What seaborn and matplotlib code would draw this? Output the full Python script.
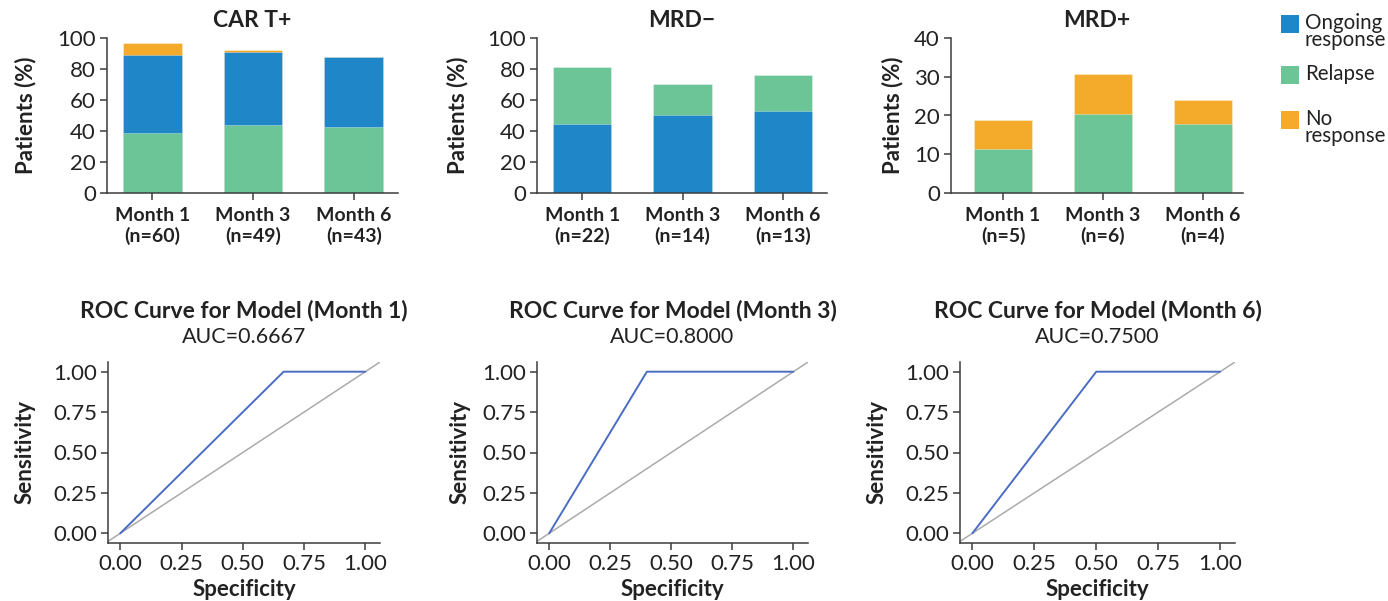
import matplotlib
matplotlib.use("Agg")
import matplotlib.pyplot as plt
import numpy as np
import seaborn as sns
from matplotlib.patches import Rectangle

# ---------------- data ----------------
months = ["Month 1", "Month 3", "Month 6"]

cart_n = [60, 49, 43]
cart_relapse = [38.5, 44.1, 42.8]
cart_ongoing = [50.5, 46.6, 44.9]
cart_noresp = [8.0, 1.8, 0.0]

mrdneg_n = [22, 14, 13]
mrdneg_ongoing = [44.5, 50.0, 52.7]
mrdneg_relapse = [36.8, 20.0, 23.6]

mrdpos_n = [5, 6, 4]
mrdpos_relapse = [11.3, 20.4, 17.9]
mrdpos_noresp = [7.6, 10.3, 6.2]

roc_months = ["Month 1", "Month 3", "Month 6"]
roc_auc = ["0.6667", "0.8000", "0.7500"]
roc_spec = [[0.0, 0.6667, 1.0], [0.0, 0.4, 1.0], [0.0, 0.5, 1.0]]
roc_sens = [[0.0, 1.0, 1.0], [0.0, 1.0, 1.0], [0.0, 1.0, 1.0]]

legend_labels = ["Ongoing\nresponse", "Relapse", "No\nresponse"]

# ---------------- style ----------------
C_ONGOING = "#1f86c8"
C_RELAPSE = "#6cc597"
C_NORESP = "#f4aa2b"
TXT = "#222222"
SPINE = "#3c3c3c"

sns.set_style("ticks")
plt.rcParams["font.family"] = ["Lato", "DejaVu Sans"]
plt.rcParams["text.color"] = TXT
plt.rcParams["axes.labelcolor"] = TXT
plt.rcParams["xtick.color"] = SPINE
plt.rcParams["ytick.color"] = SPINE
plt.rcParams["xtick.labelcolor"] = TXT
plt.rcParams["ytick.labelcolor"] = TXT

W, H = 1388, 601
fig = plt.figure(figsize=(W / 100, H / 100), dpi=100)


def px_axes(left, right, top, bottom):
    return fig.add_axes([left / W, 1 - bottom / H, (right - left) / W, (bottom - top) / H])


def style_axes(ax, fs):
    sns.despine(ax=ax)
    for s in ("left", "bottom"):
        ax.spines[s].set_color(SPINE)
        ax.spines[s].set_linewidth(1.1)
    ax.tick_params(axis="both", length=5, width=1.1, labelsize=fs)


def stacked(ax, layers, n, title, ylim, yticks, xlim, ylab_x):
    cum = np.cumsum([vals for vals, _ in layers], axis=0)
    for i in range(len(layers) - 1, -1, -1):
        sns.barplot(x=months, y=list(cum[i]), order=months, color=layers[i][1],
                    saturation=1, width=0.58, edgecolor=(1, 1, 1, 0.6), linewidth=0.4, ax=ax)
    style_axes(ax, 16)
    ax.set_ylim(*ylim)
    ax.set_yticks(yticks)
    ax.set_xlim(*xlim)
    ax.set_xticks(range(len(months)))
    ax.set_xticklabels([f"{m}\n(n={k})" for m, k in zip(months, n)],
                       fontsize=14, fontweight="bold", linespacing=1.2)
    ax.tick_params(axis="x", pad=5)
    ax.tick_params(axis="y", pad=3)
    ax.set_xlabel("")
    ax.set_ylabel("Patients (%)", fontsize=16, fontweight="bold")
    ax.yaxis.set_label_coords(ylab_x, 0.5)
    ax.set_title(title, fontsize=16.5, fontweight="bold", pad=8)


ax1 = px_axes(107, 398, 38, 193)
stacked(ax1, [(cart_relapse, C_RELAPSE), (cart_ongoing, C_ONGOING), (cart_noresp, C_NORESP)],
        cart_n, "CAR T+", (0, 100), [0, 20, 40, 60, 80, 100], (-0.45, 2.44), -0.244)

ax2 = px_axes(537, 827, 38, 193)
stacked(ax2, [(mrdneg_ongoing, C_ONGOING), (mrdneg_relapse, C_RELAPSE)],
        mrdneg_n, "MRD\u2212", (0, 100), [0, 20, 40, 60, 80, 100], (-0.45, 2.44), -0.238)

ax3 = px_axes(951, 1243, 38, 193)
stacked(ax3, [(mrdpos_relapse, C_RELAPSE), (mrdpos_noresp, C_NORESP)],
        mrdpos_n, "MRD+", (0, 40), [0, 10, 20, 30, 40], (-0.52, 2.40), -0.164)

# ---------------- legend (manual) ----------------
leg_items = [(legend_labels[0], C_ONGOING, 15), (legend_labels[1], C_RELAPSE, 66),
             (legend_labels[2], C_NORESP, 111)]
for lab, col, ytop in leg_items:
    fig.add_artist(Rectangle((1281 / W, 1 - (ytop + 18) / H), 18 / W, 18 / H,
                             transform=fig.transFigure, facecolor=col, edgecolor="none"))
    fig.text(1305 / W, 1 - (ytop - 2) / H, lab, fontsize=14.8, va="top", ha="left",
             linespacing=0.8)

# ---------------- ROC panels ----------------
roc_pos = [(108, 380), (537, 808), (960, 1235)]
ylab_xs = [-0.265, -0.244, -0.262]
for k in range(3):
    l, r = roc_pos[k]
    ax = px_axes(l, r, 362, 543)
    ax.axline((0, 0), (1, 1), color="#ababab", lw=1.1, zorder=1)
    sns.lineplot(x=roc_spec[k], y=roc_sens[k], sort=False, color="#4a6cc3", lw=1.4,
                 ax=ax, zorder=2)
    style_axes(ax, 16)
    ax.set_xlim(-0.05, 1.06)
    ax.set_ylim(-0.06, 1.06)
    ticks = [0, 0.25, 0.5, 0.75, 1.0]
    ax.set_xticks(ticks)
    ax.set_yticks(ticks)
    ax.set_xticklabels([f"{t:.2f}" for t in ticks])
    ax.set_yticklabels([f"{t:.2f}" for t in ticks])
    ax.tick_params(axis="x", pad=3)
    ax.tick_params(axis="y", pad=3)
    ax.set_xlabel("Specificity", fontsize=16, fontweight="bold")
    ax.set_ylabel("Sensitivity", fontsize=16, fontweight="bold")
    ax.xaxis.set_label_coords(0.5, -0.2)
    ax.yaxis.set_label_coords(ylab_xs[k], 0.5)
    ax.text(0.5, 1.105, f"AUC={roc_auc[k]}", transform=ax.transAxes, ha="center",
            va="baseline", fontsize=15.5)
    ax.text(0.5, 1.245, f"ROC Curve for Model ({roc_months[k]})", transform=ax.transAxes,
            ha="center", va="baseline", fontsize=16.5, fontweight="bold")

fig.savefig("out.png", dpi=100, facecolor="white")
